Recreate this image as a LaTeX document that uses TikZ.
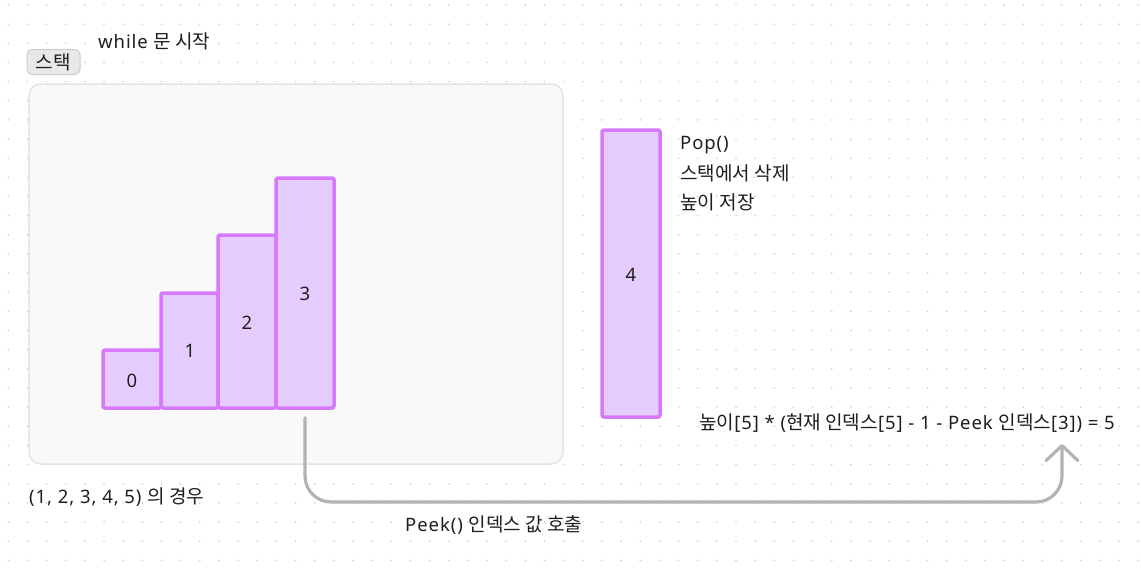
\documentclass[tikz,border=0pt]{standalone}
\usepackage{fontspec}
\setmainfont[LetterSpace=5]{Noto Sans}
\newfontfamily\krf[Scale=1.03]{Noto Sans CJK KR}
\newcommand{\kr}[1]{{\krf #1}}
\usetikzlibrary{arrows.meta,calc}
\definecolor{barfill}{HTML}{E5CCFF}
\definecolor{barline}{HTML}{D67AFB}
\definecolor{conngray}{HTML}{B3B3B3}
\definecolor{txt}{HTML}{1E1E1E}
\definecolor{dotc}{HTML}{CFCFCF}
\definecolor{boxfill}{HTML}{F9F9F9}
\definecolor{boxline}{HTML}{E3E3E3}
\definecolor{badgefill}{HTML}{E8E8E8}
\definecolor{badgeline}{HTML}{CDCDCD}
\tikzset{
  bar/.style={draw=barline, fill=barfill, line width=3.5pt, rounded corners=2pt, inner sep=0pt},
  lbl/.style={text=txt, font=\fontsize{18.5}{21}\selectfont, inner sep=0pt},
  conn/.style={draw=conngray, line width=3.2pt, rounded corners=26pt, line cap=round,
    -{Straight Barb[length=15pt,width=32pt,line cap=round,line join=round]}},
}
\begin{document}
\begin{tikzpicture}[x=1pt,y=-1pt]
\useasboundingbox (0,0) rectangle (1141,576);
\fill[white] (0,0) rectangle (1141,576);
% dot grid
\foreach \i in {0,...,59}{
  \foreach \j in {0,...,29}{
    \fill[dotc] ({8.3+19.15*\i},{5+19.15*\j}) circle (0.9pt);
  }
}
% container
\node[draw=boxline, fill=boxfill, line width=1.5pt, rounded corners=12pt, minimum width=534pt, minimum height=380pt, inner sep=0pt] (box) at (296,274) {};
% badge
\node[draw=badgeline, fill=badgefill, line width=1pt, rounded corners=5pt, minimum width=53pt, minimum height=25pt, inner sep=0pt, text=txt, font=\fontsize{18.5}{21}\selectfont] (badge) at (53.5,62) {\kr{스택}};
\node[lbl, anchor=west] (title) at (98,41) {while \kr{문 시작}};
% bars
\node[bar, minimum width=58pt, minimum height=58pt] (b0) at (132,379) {};
\node[bar, minimum width=57pt, minimum height=115pt] (b1) at (189.5,350.5) {};
\node[bar, minimum width=58pt, minimum height=173pt] (b2) at (247,321.5) {};
\node[bar, minimum width=58pt, minimum height=230pt] (b3) at (305,293) {};
\node[lbl] at (132,381) {0};
\node[lbl] at (190,351) {1};
\node[lbl] at (247,323) {2};
\node[lbl] at (305,294) {3};
\node[bar, minimum width=58pt, minimum height=287pt] (b4) at (631,273.5) {};
\node[lbl] at (631,275) {4};
% pop text
\node[lbl, anchor=west] (pop1) at (680,145) {Pop()};
\node[lbl, anchor=west] (pop2) at (680,173.5) {\kr{스택에서 삭제}};
\node[lbl, anchor=west] (pop3) at (680,202) {\kr{높이 저장}};
% formula
\node[lbl, anchor=west] (formula) at (699,423) {\kr{높이}[5] * (\kr{현재 인덱스}[5] - 1 - Peek \kr{인덱스}[3]) = 5};
\coordinate (tip) at (1062,444);
% captions
\node[lbl, anchor=west] (case) at (29,497) {(1, 2, 3, 4, 5) \kr{의 경우}};
\node[lbl, anchor=west] (peek) at (405,525) {Peek() \kr{인덱스 값 호출}};
% connector
\draw[conn] ($(b3.south)+(0,8)$) |- (1062,502) -- (tip);
\end{tikzpicture}
\end{document}
